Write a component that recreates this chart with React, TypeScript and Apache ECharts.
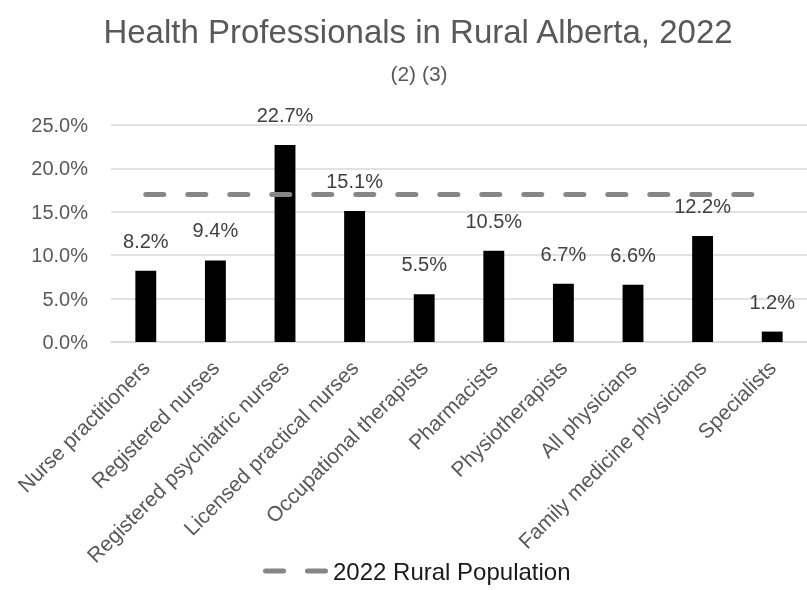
import React, { useEffect, useRef } from "react";
import * as echarts from "echarts";

const categories = [
  "Nurse practitioners",
  "Registered nurses",
  "Registered psychiatric nurses",
  "Licensed practical nurses",
  "Occupational therapists",
  "Pharmacists",
  "Physiotherapists",
  "All physicians",
  "Family medicine physicians",
  "Specialists",
];
const shareValues = [8.2, 9.4, 22.7, 15.1, 5.5, 10.5, 6.7, 6.6, 12.2, 1.2];
const ruralPopulation = [17.0, 17.0, 17.0, 17.0, 17.0, 17.0, 17.0, 17.0, 17.0, 17.0];
const lineName = "2022 Rural Population";

const FONT = "'Liberation Sans', 'DejaVu Sans', sans-serif";
const LEGEND_ICON =
  "path://M2.5,0 L20.5,0 A2.5,2.5 0 0 1 20.5,5 L2.5,5 A2.5,2.5 0 0 1 2.5,0 Z M44.5,0 L62.5,0 A2.5,2.5 0 0 1 62.5,5 L44.5,5 A2.5,2.5 0 0 1 44.5,0 Z";

export default function App() {
  const ref = useRef<HTMLDivElement>(null);
  useEffect(() => {
    if (!ref.current) return;
    const chart = echarts.init(ref.current, undefined, { renderer: "svg" });
    chart.setOption({
      animation: false,
      textStyle: { fontFamily: FONT },
      title: [
        {
          text: "Health Professionals in Rural Alberta, 2022",
          left: 413,
          top: 10,
          textAlign: "center",
          textStyle: { fontSize: 33, fontWeight: "normal", color: "#595959", fontFamily: FONT },
        },
        {
          text: "(2) (3)",
          left: 414,
          top: 58,
          textAlign: "center",
          textStyle: { fontSize: 21, fontWeight: "normal", color: "#595959", fontFamily: FONT },
        },
      ],
      legend: {
        bottom: 2,
        left: 258,
        data: [{ name: lineName, icon: LEGEND_ICON }],
        itemWidth: 65,
        itemHeight: 5,
        itemGap: 10,
        textStyle: { fontSize: 24, color: "#1a1a1a", fontFamily: FONT },
      },
      grid: { left: 111, right: 0, top: 125, bottom: 248, containLabel: false },
      xAxis: {
        type: "category",
        data: categories,
        axisLine: { show: true, lineStyle: { color: "#d9d9d9", width: 1.5 } },
        axisTick: { show: false },
        axisLabel: {
          rotate: 45,
          interval: 0,
          margin: 22,
          fontSize: 21,
          color: "#595959",
          fontFamily: FONT,
        },
      },
      yAxis: {
        type: "value",
        min: 0,
        max: 25,
        interval: 5,
        axisLine: { show: false },
        axisTick: { show: false },
        splitLine: { lineStyle: { color: "#d9d9d9", width: 1.5 } },
        axisLabel: {
          margin: 23,
          fontSize: 20,
          color: "#595959",
          fontFamily: FONT,
          formatter: (v: number) => v.toFixed(1) + "%",
        },
      },
      series: [
        {
          name: "Share",
          type: "bar",
          data: shareValues,
          barWidth: "30%",
          itemStyle: { color: "#000000" },
          label: {
            show: true,
            position: "top",
            distance: 20,
            fontSize: 20,
            color: "#404040",
            fontFamily: FONT,
            formatter: (p: any) => p.value.toFixed(1) + "%",
          },
          z: 2,
        },
        {
          name: lineName,
          type: "line",
          data: ruralPopulation,
          symbol: "none",
          itemStyle: { color: "#868686" },
          lineStyle: {
            color: "#868686",
            width: 5,
            type: [18, 24],
            cap: "round",
          },
          z: 3,
        },
      ],
    });
    return () => chart.dispose();
  }, []);
  return (
    <div
      ref={ref}
      style={{ position: "fixed", left: 0, top: 0, width: 807, height: 590 }}
    />
  );
}
